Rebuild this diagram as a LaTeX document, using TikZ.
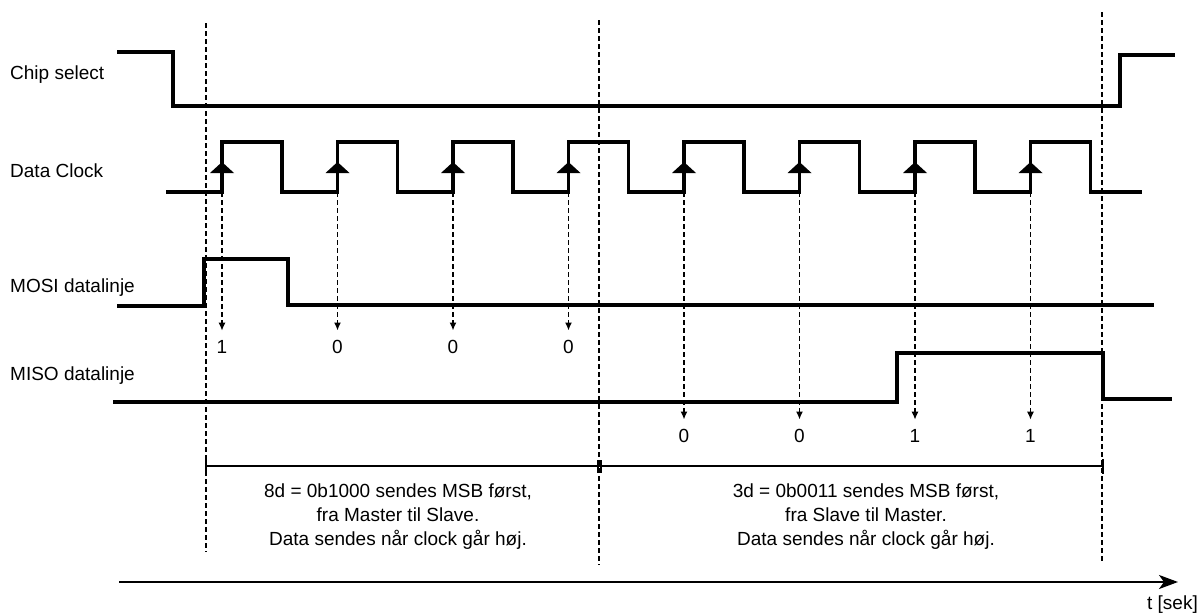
\documentclass[tikz,border=0pt]{standalone}
\usepackage{fontspec}
\setmainfont{Liberation Sans}
\usetikzlibrary{arrows.meta}
\begin{document}
\begin{tikzpicture}[x=1pt,y=-1pt,
  sig/.style={line width=3.4pt, line join=miter, line cap=butt},
  guide/.style={line width=1.5pt, dash pattern=on 5pt off 3pt},
  probe/.style={line width=1.5pt, dash pattern=on 5pt off 3pt, -{Latex[length=8pt,width=7pt]}, shorten >=9pt},
  lbl/.style={font=\fontsize{19}{24}\selectfont, inner sep=0pt},
  edge/.style={fill=black},
]
\useasboundingbox (0,0) rectangle (1199,613);

% signal labels
\node[lbl, anchor=base west] (cs)   at (10,79)  {Chip select};
\node[lbl, anchor=base west] (clk)  at (10,177) {Data Clock};
\node[lbl, anchor=base west] (mosi) at (10,292) {MOSI datalinje};
\node[lbl, anchor=base west] (miso) at (10,380) {MISO datalinje};

% guide lines
\draw[guide] (206,23) -- (206,552);
\draw[guide] (599,20) -- (599,565);
\draw[guide] (1102,12) -- (1102,562);

% chip select
\draw[sig] (117,52) -- (173,52) -- (173,106) -- (1120,106) -- (1120,55) -- (1175,55);

% data clock
\draw[sig] (166,192)
  \foreach \r in {222,337.5,453,568.5,684,799.5,915,1030.5} {
    -- (\r,192) -- (\r,142) -- (\r+60,142) -- (\r+60,192) }
  -- (1142,192);
\foreach \r in {222,337.5,453,568.5,684,799.5,915,1030.5}
  \fill[edge] (\r-12,173) -- (\r,162) -- (\r+12,173) -- cycle;

% MOSI
\draw[sig] (117,306) -- (204,306) -- (204,259) -- (288,259) -- (288,305) -- (1154,305);
% MISO
\draw[sig] (113,402) -- (897,402) -- (897,353) -- (1103,353) -- (1103,399) -- (1172,399);

% sampled bits, MOSI
\foreach \r/\d [count=\i] in {222/1,337.5/0,453/0,568.5/0} {
  \coordinate (e\i) at (\r,192);
  \node[lbl, anchor=base] (b\i) at (\r,353) {\d};
  \draw[probe] (e\i) -- (b\i.north);
}
% sampled bits, MISO
\foreach \r/\d [count=\i] in {684/0,799.5/0,915/1,1030.5/1} {
  \coordinate (f\i) at (\r,192);
  \node[lbl, anchor=base] (c\i) at (\r,442) {\d};
  \draw[probe] (f\i) -- (c\i.north);
}

% bracket
\coordinate (bl) at (206,466);
\coordinate (bm) at (599.5,466);
\coordinate (br) at (1103,466);
\draw[line width=1.6pt] (bl) -- (br);
\draw[line width=2pt] ([yshift=-7.5pt]bl) -- ([yshift=7.5pt]bl);
\draw[line width=1.4pt] ([xshift=-1.5pt,yshift=-6.5pt]bm) -- ([xshift=-1.5pt,yshift=6.5pt]bm)
                        ([xshift=1.5pt,yshift=-6.5pt]bm) -- ([xshift=1.5pt,yshift=6.5pt]bm);
\draw[line width=2pt] ([yshift=-7.5pt]br) -- ([yshift=7.5pt]br);

% descriptions
\node[lbl, align=center, anchor=north] (txa) at (398,484)
  {8d = 0b1000 sendes MSB først,\\fra Master til Slave.\\Data sendes når clock går høj.};
\node[lbl, align=center, anchor=north] (txb) at (866,484)
  {3d = 0b0011 sendes MSB først,\\fra Slave til Master.\\Data sendes når clock går høj.};

% time axis
\coordinate (ta) at (119,582);
\coordinate (tb) at (1178,582);
\draw[line width=2pt, -{Stealth[length=19pt,width=14pt,inset=5pt]}] (ta) -- (tb);
\node[lbl, anchor=base east] (tl) at (1198,609) {t [sek]};
\end{tikzpicture}
\end{document}
